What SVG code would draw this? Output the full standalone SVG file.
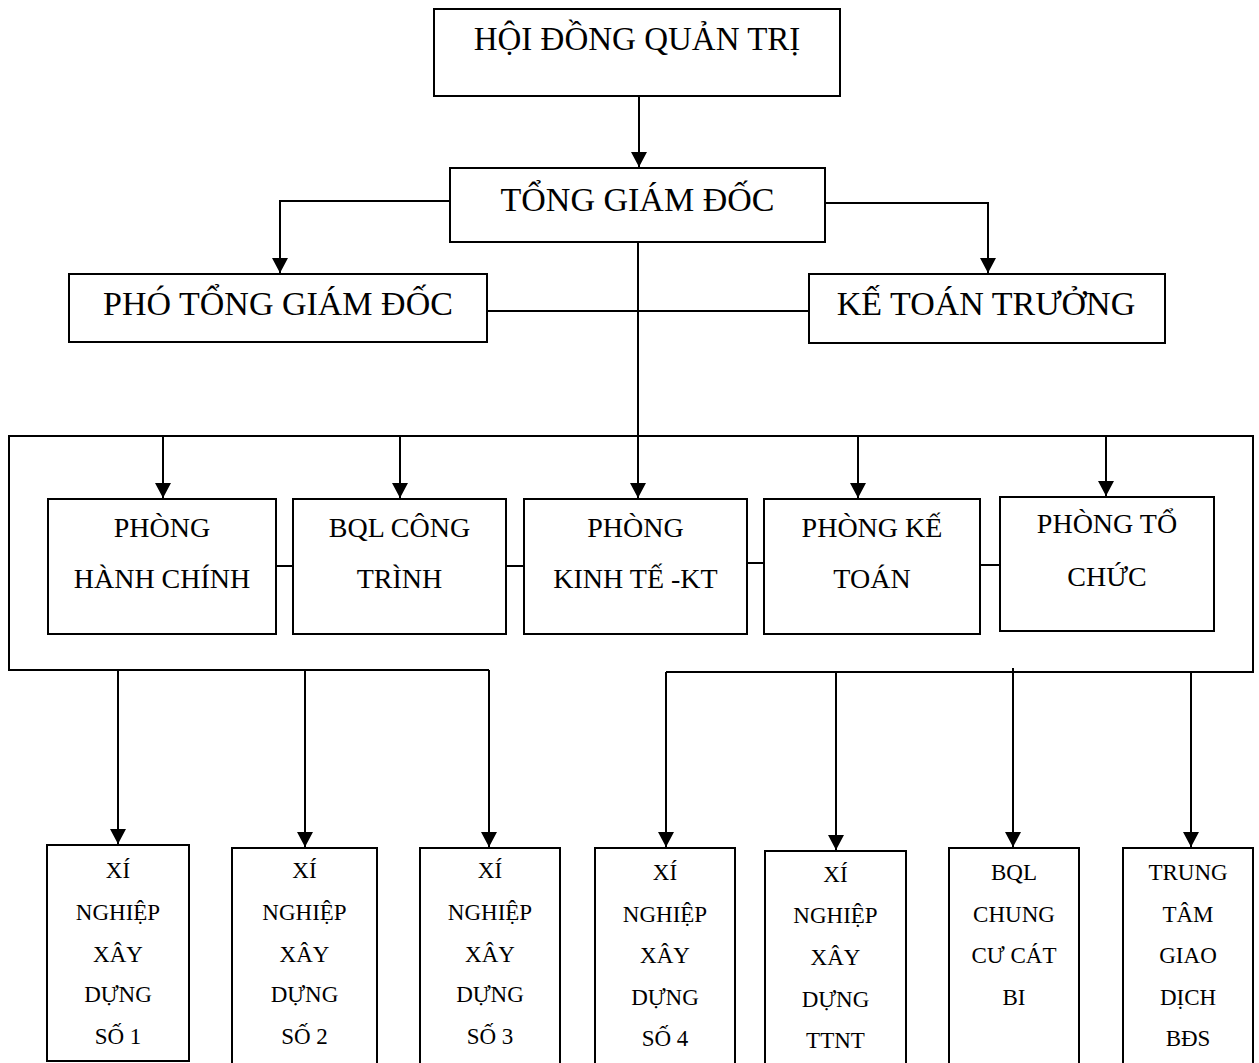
<svg xmlns="http://www.w3.org/2000/svg" width="1259" height="1063" viewBox="0 0 1259 1063" font-family="'Liberation Serif', Tinos, 'Times New Roman', 'DejaVu Serif', serif">
<style>
.box{fill:#fff;stroke:#000;stroke-width:2}
.ln{fill:none;stroke:#000;stroke-width:2}
text{fill:#000;text-anchor:middle}
.t1{font-size:33px}
.t2{font-size:28px}
.t3{font-size:23px}
</style>
<defs>
<marker id="ah" markerUnits="userSpaceOnUse" viewBox="0 0 15 16" refX="15" refY="8" markerWidth="15" markerHeight="16" orient="auto">
<path d="M0,0 L15,8 L0,16 z" fill="#000"/>
</marker>
</defs>
<rect width="1259" height="1063" fill="#fff"/>
<g id="connectors">
<path class="ln" d="M639,96 V167" marker-end="url(#ah)"/>
<path class="ln" d="M450,201 H280 V273" marker-end="url(#ah)"/>
<path class="ln" d="M825,203 H988 V273" marker-end="url(#ah)"/>
<path class="ln" d="M487,311 H809"/>
<path class="ln" d="M638,242 V498" marker-end="url(#ah)"/>
<path class="ln" d="M489,670 H9 V436 H1253 V672 H666"/>
<path class="ln" d="M163,436 V498" marker-end="url(#ah)"/>
<path class="ln" d="M400,436 V498" marker-end="url(#ah)"/>
<path class="ln" d="M858,436 V498" marker-end="url(#ah)"/>
<path class="ln" d="M1106,436 V496" marker-end="url(#ah)"/>
<path class="ln" d="M276,566 H293"/>
<path class="ln" d="M506,566 H524"/>
<path class="ln" d="M747,563 H764"/>
<path class="ln" d="M980,565 H1000"/>
<path class="ln" d="M118,670 V844" marker-end="url(#ah)"/>
<path class="ln" d="M305,670 V847" marker-end="url(#ah)"/>
<path class="ln" d="M489,670 V847" marker-end="url(#ah)"/>
<path class="ln" d="M666,672 V847" marker-end="url(#ah)"/>
<path class="ln" d="M836,672 V850" marker-end="url(#ah)"/>
<path class="ln" d="M1013,668 V847" marker-end="url(#ah)"/>
<path class="ln" d="M1191,672 V847" marker-end="url(#ah)"/>
</g>
<g id="hdqt"><rect class="box" x="434" y="9" width="406" height="87"/><text class="t1" x="637" y="50">HỘI ĐỒNG QUẢN TRỊ</text></g>
<g id="tgd"><rect class="box" x="450" y="168" width="375" height="74"/><text class="t1" x="637.5" y="211" style="font-size:34px">TỔNG GIÁM ĐỐC</text></g>
<g id="ptgd"><rect class="box" x="69" y="274" width="418" height="68"/><text class="t1" x="278" y="315" style="font-size:34px">PHÓ TỔNG GIÁM ĐỐC</text></g>
<g id="ktt"><rect class="box" x="809" y="274" width="356" height="69"/><text class="t1" x="986" y="315" style="font-size:34px">KẾ TOÁN TRƯỞNG</text></g>
<g id="p-hanhchinh"><rect class="box" x="48" y="499" width="228" height="135"/><text class="t2" x="162" y="537">PHÒNG</text><text class="t2" x="162" y="588">HÀNH CHÍNH</text></g>
<g id="bql-congtrinh"><rect class="box" x="293" y="499" width="213" height="135"/><text class="t2" x="399.5" y="537">BQL CÔNG</text><text class="t2" x="399.5" y="588">TRÌNH</text></g>
<g id="p-kinhte"><rect class="box" x="524" y="499" width="223" height="135"/><text class="t2" x="635.5" y="537">PHÒNG</text><text class="t2" x="635.5" y="588">KINH TẾ -KT</text></g>
<g id="p-ketoan"><rect class="box" x="764" y="499" width="216" height="135"/><text class="t2" x="872" y="537">PHÒNG KẾ</text><text class="t2" x="872" y="588">TOÁN</text></g>
<g id="p-tochuc"><rect class="box" x="1000" y="497" width="214" height="134"/><text class="t2" x="1107" y="533">PHÒNG TỔ</text><text class="t2" x="1107" y="586">CHỨC</text></g>
<g id="xn1"><rect class="box" x="47" y="845" width="142" height="216"/><text class="t3" x="118" y="878">XÍ</text><text class="t3" x="118" y="920">NGHIỆP</text><text class="t3" x="118" y="962">XÂY</text><text class="t3" x="118" y="1002">DỰNG</text><text class="t3" x="118" y="1044">SỐ 1</text></g>
<g id="xn2"><rect class="box" x="232" y="848" width="145" height="230"/><text class="t3" x="304.5" y="878">XÍ</text><text class="t3" x="304.5" y="920">NGHIỆP</text><text class="t3" x="304.5" y="962">XÂY</text><text class="t3" x="304.5" y="1002">DỰNG</text><text class="t3" x="304.5" y="1044">SỐ 2</text></g>
<g id="xn3"><rect class="box" x="420" y="848" width="140" height="230"/><text class="t3" x="490" y="878">XÍ</text><text class="t3" x="490" y="920">NGHIỆP</text><text class="t3" x="490" y="962">XÂY</text><text class="t3" x="490" y="1002">DỰNG</text><text class="t3" x="490" y="1044">SỐ 3</text></g>
<g id="xn4"><rect class="box" x="595" y="848" width="140" height="230"/><text class="t3" x="665" y="880">XÍ</text><text class="t3" x="665" y="922">NGHIỆP</text><text class="t3" x="665" y="963">XÂY</text><text class="t3" x="665" y="1005">DỰNG</text><text class="t3" x="665" y="1046">SỐ 4</text></g>
<g id="xn-ttnt"><rect class="box" x="765" y="851" width="141" height="230"/><text class="t3" x="835.5" y="882">XÍ</text><text class="t3" x="835.5" y="923">NGHIỆP</text><text class="t3" x="835.5" y="965">XÂY</text><text class="t3" x="835.5" y="1007">DỰNG</text><text class="t3" x="835.5" y="1048">TTNT</text></g>
<g id="bql-catbi"><rect class="box" x="949" y="848" width="130" height="230"/><text class="t3" x="1014" y="880">BQL</text><text class="t3" x="1014" y="922">CHUNG</text><text class="t3" x="1014" y="963">CƯ CÁT</text><text class="t3" x="1014" y="1005">BI</text></g>
<g id="tt-bds"><rect class="box" x="1123" y="848" width="130" height="230"/><text class="t3" x="1188" y="880">TRUNG</text><text class="t3" x="1188" y="922">TÂM</text><text class="t3" x="1188" y="963">GIAO</text><text class="t3" x="1188" y="1005">DỊCH</text><text class="t3" x="1188" y="1046">BĐS</text></g>
</svg>
